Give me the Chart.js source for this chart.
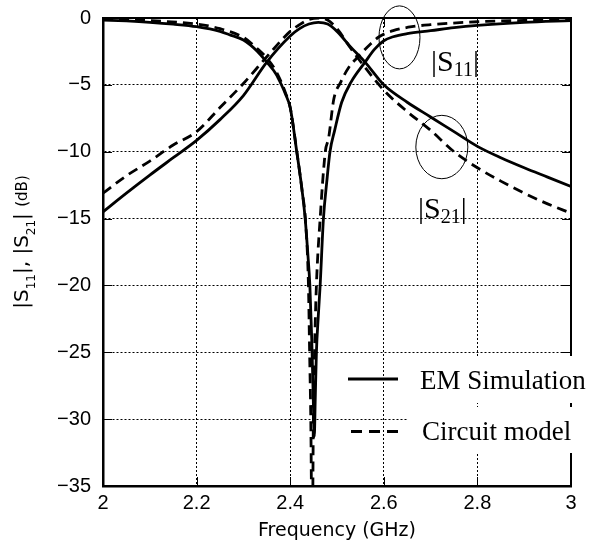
<!DOCTYPE html>
<html>
<head>
<meta charset="utf-8">
<script src="https://cdn.jsdelivr.net/npm/chart.js@4.4.1/dist/chart.umd.min.js"></script>
<style>
  html, body { margin: 0; padding: 0; background: #fff; }
  #wrap { width: 598px; height: 543px; }
</style>
</head>
<body>
<div id="wrap"><canvas id="c" width="598" height="543"></canvas></div>
<script>
// ---- data ----
const xTickValues = [2, 2.2, 2.4, 2.6, 2.8, 3];
const xTickLabels = ['2', '2.2', '2.4', '2.6', '2.8', '3'];
const yTickValues = [0, -5, -10, -15, -20, -25, -30, -35];
const yTickLabels = ['0', '\u22125', '\u221210', '\u221215', '\u221220', '\u221225', '\u221230', '\u221235'];

const legendLabels = ['EM Simulation', 'Circuit model'];

// |S11| EM simulation
const fS11em = [2.00, 2.05, 2.10, 2.15, 2.20, 2.25, 2.27, 2.30, 2.33, 2.35, 2.37, 2.38, 2.39, 2.40, 2.414, 2.424, 2.432, 2.438, 2.442, 2.446, 2.449, 2.4515, 2.4535, 2.456, 2.46, 2.464, 2.471, 2.478, 2.485, 2.495, 2.51, 2.53, 2.56, 2.58, 2.60, 2.62, 2.65, 2.70, 2.75, 2.80, 2.90, 3.00];
const s11em  = [-0.15, -0.22, -0.32, -0.46, -0.65, -1.0, -1.25, -1.65, -2.5, -3.3, -4.2, -4.9, -5.7, -6.7, -10.0, -12.5, -15.0, -17.8, -20.0, -24.0, -28.0, -31.3, -28.5, -25.0, -22.3, -20.0, -15.0, -12.3, -10.0, -8.4, -6.3, -4.8, -3.3, -2.35, -1.7, -1.4, -1.17, -0.95, -0.72, -0.55, -0.33, -0.2];

// |S11| circuit model
const fS11cm = [2.00, 2.10, 2.20, 2.25, 2.30, 2.33, 2.35, 2.37, 2.39, 2.40, 2.415, 2.425, 2.433, 2.439, 2.4415, 2.444, 2.4465, 2.4475, 2.4495, 2.452, 2.456, 2.464, 2.475, 2.482, 2.493, 2.508, 2.525, 2.545, 2.57, 2.59, 2.62, 2.66, 2.70, 2.80, 2.90, 3.00];
const s11cm  = [-0.05, -0.2, -0.45, -0.8, -1.45, -2.3, -3.0, -4.0, -5.6, -6.7, -10.2, -12.8, -15.3, -20.0, -25.0, -30.0, -38.0, -38.0, -30.0, -25.0, -20.0, -15.0, -10.0, -9.0, -6.1, -4.8, -3.7, -2.9, -2.0, -1.4, -0.95, -0.65, -0.5, -0.28, -0.18, -0.12];

// |S21| (same frequency grid for both)
const fS21   = [2.00, 2.05, 2.10, 2.15, 2.20, 2.25, 2.30, 2.35, 2.40, 2.42, 2.44, 2.46, 2.48, 2.50, 2.53, 2.56, 2.60, 2.65, 2.70, 2.75, 2.80, 2.85, 2.90, 2.95, 3.00];
const s21em  = [-14.5, -13.1, -11.75, -10.45, -9.15, -7.6, -5.8, -3.3, -1.35, -0.8, -0.45, -0.32, -0.45, -1.0, -2.2, -3.3, -5.0, -6.3, -7.4, -8.5, -9.6, -10.45, -11.2, -11.9, -12.6];
const s21cm  = [-13.1, -11.8, -10.7, -9.5, -8.5, -6.7, -4.9, -2.9, -1.0, -0.5, -0.12, 0.0, -0.15, -0.8, -2.3, -3.7, -5.4, -7.0, -8.4, -10.0, -11.2, -12.2, -13.1, -13.9, -14.6];

// ---- build ----
const pts = (xs, ys) => xs.map((x, i) => ({ x: x, y: ys[i] }));
const DASH = [10, 6];
const LW = 2.8;

const baseDs = { borderColor: '#000', backgroundColor: '#000', borderWidth: LW, pointRadius: 0, fill: false, cubicInterpolationMode: 'monotone' };
const datasets = [
  Object.assign({ label: '|S11| ' + legendLabels[0], data: pts(fS11em, s11em) }, baseDs),
  Object.assign({ label: '|S21| ' + legendLabels[0], data: pts(fS21, s21em) }, baseDs),
  Object.assign({ label: '|S11| ' + legendLabels[1], data: pts(fS11cm, s11cm), borderDash: DASH }, baseDs),
  Object.assign({ label: '|S21| ' + legendLabels[1], data: pts(fS21, s21cm), borderDash: DASH }, baseDs)
];

const SANS = '"Liberation Sans", Arial, sans-serif';
const DEJA = '"DejaVu Sans", sans-serif';
const SERIF = '"Liberation Serif", "Times New Roman", serif';

function drawParts(ctx, parts, x, y) {
  // parts: [text, font, dy]
  let cx = x;
  parts.forEach(p => {
    ctx.font = p[1];
    ctx.fillText(p[0], cx, y + p[2]);
    cx += ctx.measureText(p[0]).width;
  });
  return cx - x;
}
function measureParts(ctx, parts) {
  let w = 0;
  parts.forEach(p => { ctx.font = p[1]; w += ctx.measureText(p[0]).width; });
  return w;
}

const decor = {
  id: 'decor',
  afterDatasetsDraw(chart) {
    const { ctx, chartArea: a, scales: { x, y } } = chart;
    ctx.save();
    ctx.strokeStyle = '#000';
    ctx.fillStyle = '#000';
    ctx.setLineDash([]);
    // frame top / right
    ctx.lineWidth = 2;
    ctx.beginPath();
    ctx.moveTo(a.left, a.top); ctx.lineTo(a.right, a.top); ctx.lineTo(a.right, a.bottom);
    ctx.stroke();
    // inward tick marks
    ctx.lineWidth = 1;
    const TL = 9;
    ctx.beginPath();
    xTickValues.forEach(v => {
      const px = Math.round(x.getPixelForValue(v)) + 0.5;
      ctx.moveTo(px, a.bottom); ctx.lineTo(px, a.bottom - TL);
      ctx.moveTo(px, a.top); ctx.lineTo(px, a.top + TL);
    });
    yTickValues.forEach(v => {
      const py = Math.round(y.getPixelForValue(v)) + 0.5;
      ctx.moveTo(a.left, py); ctx.lineTo(a.left + TL, py);
      ctx.moveTo(a.right, py); ctx.lineTo(a.right - TL, py);
    });
    ctx.stroke();

    // ellipses around the curve pairs
    ctx.lineWidth = 1;
    const ell = (fx, fy, rx, ry) => {
      ctx.beginPath();
      ctx.ellipse(x.getPixelForValue(fx), y.getPixelForValue(fy), rx, ry, 0, 0, Math.PI * 2);
      ctx.stroke();
    };
    ell(2.6335, -1.45, 20.5, 31.5);
    ell(2.724, -9.65, 26, 31.7);

    // curve labels
    ctx.textBaseline = 'alphabetic';
    ctx.textAlign = 'left';
    const M = '30px ' + SERIF, S = '20px ' + SERIF;
    drawParts(ctx, [['|S', M, 0], ['11', S, 5], ['|', M, 0]], x.getPixelForValue(2.701), y.getPixelForValue(-4.0));
    drawParts(ctx, [['|S', M, 0], ['21', S, 5], ['|', M, 0]], x.getPixelForValue(2.673), y.getPixelForValue(-14.95));

    // legend (white boxes behind text)
    const items = [
      { ds: chart.data.datasets[0], label: legendLabels[0], ly: 379, tx: 420, ty: 389, x0: 348, box: [410, 356, 190, 47] },
      { ds: chart.data.datasets[2], label: legendLabels[1], ly: 431.5, tx: 422, ty: 440, x0: 351, box: [408, 407, 192, 46] }
    ];
    items.forEach(it => {
      ctx.fillStyle = '#fff';
      ctx.fillRect(it.box[0], it.box[1], it.box[2], it.box[3]);
      ctx.fillStyle = '#000';
      ctx.strokeStyle = it.ds.borderColor;
      ctx.lineWidth = it.ds.borderWidth;
      ctx.setLineDash(it.ds.borderDash ? [11, 7] : []);
      ctx.beginPath();
      ctx.moveTo(it.x0, it.ly); ctx.lineTo(398, it.ly);
      ctx.stroke();
      ctx.setLineDash([]);
      ctx.font = '27px ' + SERIF;
      ctx.fillText(it.label, it.tx, it.ty);
    });

    // y-axis title with subscripts
    ctx.save();
    ctx.translate(27.5, 242);
    ctx.rotate(-Math.PI / 2);
    const F = '20px ' + DEJA, FS = '12px ' + DEJA, FD = '15px ' + DEJA;
    const parts = [['|S', F, 0], ['11', FS, 7], ['|, |S', F, 0], ['21', FS, 7], ['| ', F, 0], ['(dB)', FD, -1]];
    const w = measureParts(ctx, parts);
    drawParts(ctx, parts, -w / 2, 0);
    ctx.restore();

    ctx.restore();
  }
};

new Chart(document.getElementById('c'), {
  type: 'line',
  data: { datasets: datasets },
  plugins: [decor],
  options: {
    responsive: false,
    animation: false,
    events: [],
    layout: { padding: { top: 18, right: 27, left: 0, bottom: 0 } },
    plugins: { legend: { display: false }, tooltip: { enabled: false }, title: { display: false } },
    elements: { line: { borderJoinStyle: 'round' } },
    scales: {
      x: {
        type: 'linear', min: 2, max: 3,
        afterFit: s => { s.height = 57; s.paddingLeft = 0; s.paddingRight = 0; },
        afterBuildTicks: s => { s.ticks = xTickValues.map(v => ({ value: v })); },
        ticks: {
          color: '#000', padding: 5, maxRotation: 0, autoSkip: false,
          font: { family: SANS, size: 20 },
          callback: v => xTickLabels[xTickValues.indexOf(v)]
        },
        grid: { color: '#000', lineWidth: 1, drawTicks: false },
        border: { display: true, color: '#000', width: 2.5, dash: [2, 2] },
        title: { display: true, text: 'Frequency (GHz)', color: '#000', font: { family: DEJA, size: 19 }, padding: { top: 0, bottom: 1 } }
      },
      y: {
        type: 'linear', min: -35, max: 0,
        afterFit: s => { s.width = 103; s.paddingTop = 0; s.paddingBottom = 0; },
        afterBuildTicks: s => { s.ticks = yTickValues.map(v => ({ value: v })); },
        ticks: {
          color: '#000', padding: 12, autoSkip: false,
          font: { family: SANS, size: 20 },
          callback: v => yTickLabels[yTickValues.indexOf(v)]
        },
        grid: { color: '#000', lineWidth: 1, drawTicks: false },
        border: { display: true, color: '#000', width: 2.5, dash: [2, 2] }
      }
    }
  }
});
</script>
</body>
</html>
